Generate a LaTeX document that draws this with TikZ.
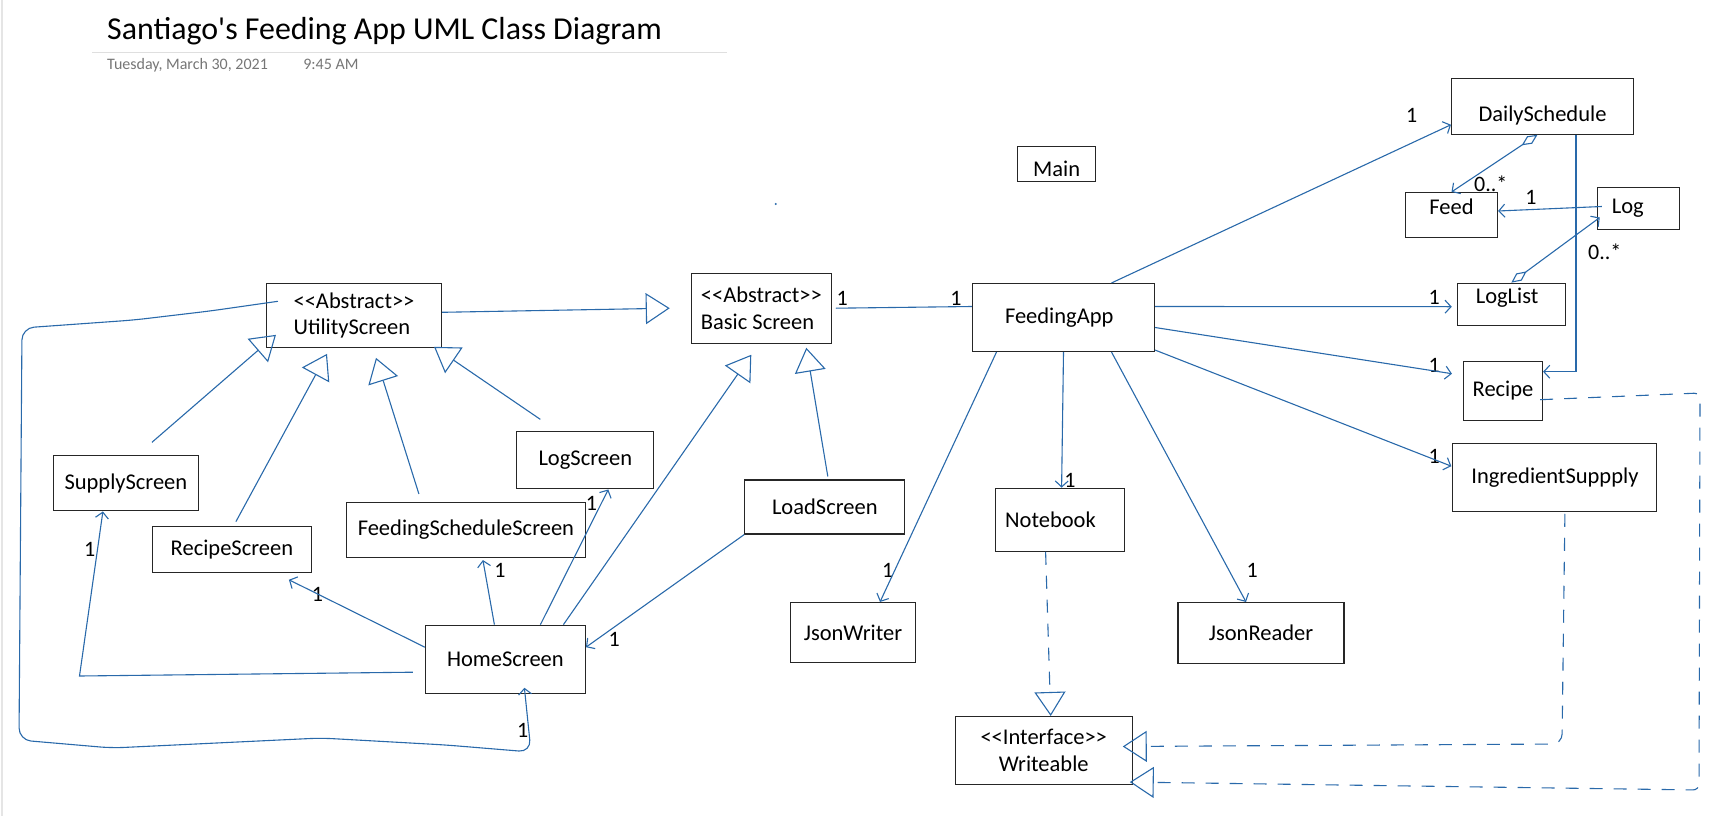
\documentclass[tikz,border=0pt]{standalone}
\usepackage{fontspec}
\newfontfamily\calfont{Carlito}
\usepackage{tikz}
\usetikzlibrary{positioning,arrows.meta}
\definecolor{penblue}{RGB}{41,105,170}
\definecolor{dategray}{RGB}{118,118,118}

\begin{document}
\begin{tikzpicture}[
x=1pt, y=-1pt,
cls/.style 2 args={rectangle, draw=black!85, line width=1.1pt, minimum width=#1, minimum height=#2, inner sep=0pt, font=\calfont\fontsize{22.5}{26.5}\selectfont},
textdown/.style={text height=#1},
textup/.style={text depth=#1},
textleft/.style={text width=#1, align=left},
mult/.style={font=\calfont\fontsize{22}{26}\selectfont, inner sep=0pt},
datetxt/.style={font=\calfont\fontsize{16}{19}\selectfont, text=dategray, inner sep=0pt},
assoc/.style={draw=penblue, line width=1.1pt, -{Straight Barb[length=6pt,width=13pt]}},
aggr/.style={draw=penblue, line width=1.1pt, {Diamond[open,length=19pt,width=9pt]}-{Straight Barb[length=6pt,width=13pt]}},
inherit/.style={draw=penblue, line width=1.1pt, -{Triangle[open,length=24pt,width=31pt]}},
realize/.style={inherit, dash pattern=on 13pt off 11pt},
plain/.style={draw=penblue, line width=1.1pt},
]
\useasboundingbox (0,0) rectangle (1726,816);

%Page header
\draw[gray!20, line width=1.2pt] (2,0) -- (2,816);
\node[font=\calfont\fontsize{31.9}{36}\selectfont, anchor=base west, inner sep=0pt] (title) at (107,40) {Santiago's Feeding App UML Class Diagram};
\draw[gray!25, line width=1pt] (92,52.3) -- (727,52.3);
\node[datetxt, anchor=base west] (date) at ([yshift=-30pt]title.base west) {Tuesday, March 30, 2021};
\node[datetxt] (time) [base right=35pt of date] {9:45 AM};

%Classes
\node[cls={182pt}{56pt}, textdown=34pt] (daily_sched) at (1542.5,106.2) {DailySchedule};
\node[cls={92pt}{45pt}, textup=16.6pt] (feed) at (1451.5,215) {Feed};
\node[cls={82pt}{42pt}, textleft=53pt] (log) at (1638.3,208.5) {Log};
\node[cls={108pt}{42pt}, textup=16pt, textleft=71pt] (log_list) at (1511.3,304.2) {LogList};
\node[cls={79pt}{59pt}] (recipe) at (1503,390.7) {Recipe};
\node[cls={204pt}{68pt}] (ingr_supply) at (1554.9,477.2) {IngredientSuppply};
\node[cls={78pt}{35pt}, textdown=24pt] (main) at (1056.7,164.2) {Main};
\node[cls={182pt}{68pt}, textleft=117pt] (feeding_app) at (1063.5,317.5) {FeedingApp};
\node[cls={140pt}{70pt}, align=left] (basic_screen) at (761.3,308.2) {<{}<Abstract>{}>\\Basic Screen};
\node[cls={175pt}{64pt}, align=left] (utility_screen) at (354,315.3) {<{}<Abstract>{}>\\UtilityScreen};
\node[cls={145pt}{55pt}] (supply_screen) at (125.9,483.4) {SupplyScreen};
\node[cls={159pt}{46pt}] (recipe_screen) at (231.9,549.2) {RecipeScreen};
\node[cls={239pt}{55pt}] (sched_screen) at (465.9,530) {FeedingScheduleScreen};
\node[cls={137pt}{57pt}] (log_screen) at (585.3,460.4) {LogScreen};
\node[cls={160pt}{68pt}] (home_screen) at (505.4,659.2) {HomeScreen};
\node[cls={160pt}{54pt}] (load_screen) at (824.8,507) {LoadScreen};
\node[cls={129pt}{63pt}, textleft=109pt] (notebook) at (1059.6,519.7) {Notebook};
\node[cls={125pt}{60pt}] (json_writer) at (853,632.5) {JsonWriter};
\node[cls={166pt}{61pt}] (json_reader) at (1261,633) {JsonReader};
\node[cls={177pt}{68pt}, align=center] (writeable) at (1043.7,750.5) {<{}<Interface>{}>\\Writeable};

%Multiplicities
\node[mult] (m_daily) at (1411.7,115.7) {1};
\node[mult] (m_feed) at (1490.7,183.7) {0..*};
\node[mult] (m_log_feed) at (1531,197.7) {1};
\node[mult] (m_log) at (1604.7,251.7) {0..*};
\node[mult] (m_log_list) at (1434.3,297.7) {1};
\node[mult] (m_recipe) at (1434.3,365) {1};
\node[mult] (m_ingr) at (1434.3,456.7) {1};
\node[mult] (m_basic) at (842.3,298.3) {1};
\node[mult] (m_app) at (956,298.3) {1};
\node[mult] (m_notebook) at (1070,480) {1};
\node[mult] (m_writer) at (887.6,570.8) {1};
\node[mult] (m_reader) at (1252.3,570.8) {1};
\node[mult] (m_home_load) at (614.3,639) {1};
\node[mult] (m_recipe_scr) at (317.4,594) {1};
\node[mult] (m_sched_scr) at (500,570.8) {1};
\node[mult] (m_log_scr) at (591.5,503.3) {1};
\node[mult] (m_supply_scr) at (89.7,549) {1};
\node[mult] (m_home_loop) at (522.8,730.8) {1};

%FeedingApp connections
\draw[assoc] ([xshift=48pt]feeding_app.north) -- ([yshift=10pt]daily_sched.south west);
\draw[assoc] ([yshift=11pt]feeding_app.east) -- ([xshift=-5pt,yshift=-2.5pt]log_list.west);
\draw[assoc] ([yshift=-10pt]feeding_app.east) -- ([xshift=-11pt,yshift=17pt]recipe.west);
\draw[assoc] ([yshift=2pt]feeding_app.south east) -- ([xshift=-1pt,yshift=11pt]ingr_supply.west);
\draw[assoc] (feeding_app.south) -- ([xshift=2pt]notebook.north);
\draw[assoc] ([xshift=-67pt]feeding_app.south) -- ([xshift=27pt]json_writer.north);
\draw[assoc] ([xshift=48pt]feeding_app.south) -- ([xshift=-15pt]json_reader.north);
\draw[plain] ([xshift=4pt]basic_screen.east) -- ([yshift=11pt]feeding_app.west);

%Schedule and log
\draw[aggr] ([xshift=-5pt]daily_sched.south) -- (feed.north);
\draw[assoc] ([xshift=5pt,yshift=2pt]log.west) -- ([yshift=4pt]feed.east);
\draw[aggr] (log_list.north) -- ([xshift=3pt,yshift=-9pt]log.west);
\draw[assoc] ([xshift=33.5pt]daily_sched.south) |- ([yshift=19pt]recipe.east);

%Screens
\draw[inherit] ([yshift=3pt]utility_screen.east) -- ([xshift=-21pt]basic_screen.west);
\draw[inherit] ([xshift=26pt,yshift=13pt]supply_screen.north) -- ([xshift=10pt,yshift=13pt]utility_screen.south west);
\draw[inherit] ([xshift=4pt,yshift=4pt]recipe_screen.north) -- ([xshift=-27pt,yshift=-6pt]utility_screen.south);
\draw[inherit] ([xshift=-47pt,yshift=8pt]sched_screen.north) -- ([xshift=22pt,yshift=-10pt]utility_screen.south);
\draw[inherit] ([xshift=-45pt,yshift=12pt]log_screen.north) -- ([xshift=-8pt,yshift=1pt]utility_screen.south east);
\draw[inherit] ([xshift=58pt]home_screen.north) -- ([xshift=-10pt,yshift=-11pt]basic_screen.south);
\draw[inherit] ([xshift=3pt,yshift=3pt]load_screen.north) -- ([xshift=45pt,yshift=-4pt]basic_screen.south);
\draw[assoc] (load_screen.south west) -- ([yshift=12pt]home_screen.east);
\draw[assoc] ([yshift=12pt]home_screen.west) -- ([xshift=57pt,yshift=-7pt]recipe_screen.south);
\draw[assoc] ([xshift=-11pt]home_screen.north) -- ([xshift=17pt,yshift=-2pt]sched_screen.south);
\draw[assoc] ([xshift=35pt]home_screen.north) -- ([xshift=23pt]log_screen.south);
\draw[assoc] ([xshift=-12pt,yshift=-13pt]home_screen.west) -- (79.5,676) -- ([xshift=-23pt]supply_screen.south);
\draw[assoc, rounded corners=12pt] ([xshift=12pt,yshift=14pt]utility_screen.west) -- (210,311) -- (134,320) -- (22,328) -- (19,740) -- (112,748) -- (321,738) -- (446,745) -- (531,752) -- ([xshift=19pt,yshift=6pt]home_screen.south);

%Writeable
\draw[realize] ([xshift=-14pt]notebook.south) -- ([xshift=7pt]writeable.north);
\draw[realize, rounded corners=10pt] ([xshift=10pt,yshift=-2pt]ingr_supply.south) -- (1562,744) -- ([xshift=-10pt,yshift=4pt]writeable.east);
\draw[realize, rounded corners=6pt] ([xshift=-3pt,yshift=-9pt]recipe.east) -- (1700,393) -- (1699,790) -- ([xshift=-3pt,yshift=3pt]writeable.south east);

\fill[penblue] (775.7,204) circle (1.2pt);
\end{tikzpicture}
\end{document}
